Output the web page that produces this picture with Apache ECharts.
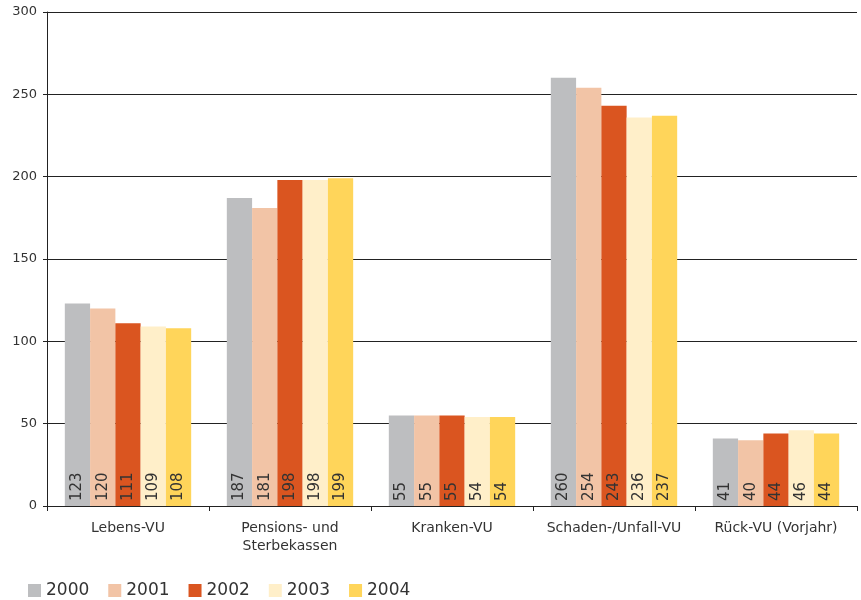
<!DOCTYPE html>
<html><head><meta charset="utf-8">
<script src="https://cdn.jsdelivr.net/npm/echarts@6/dist/echarts.min.js"></script>
<style>html,body{margin:0;padding:0;background:#fff}#c{width:861px;height:600px}</style>
</head><body><div id="c"></div>
<script>
var categories = ['Lebens-VU', 'Pensions- und\nSterbekassen', 'Kranken-VU', 'Schaden-/Unfall-VU', 'Rück-VU (Vorjahr)'];
var years = ['2000', '2001', '2002', '2003', '2004'];
var v2000 = [123, 187, 55, 260, 41];
var v2001 = [120, 181, 55, 254, 40];
var v2002 = [111, 198, 55, 243, 44];
var v2003 = [109, 198, 54, 236, 46];
var v2004 = [108, 199, 54, 237, 44];
var yTicks = [0, 50, 100, 150, 200, 250, 300];

var colors = ['#BDBEC0', '#F2C4A6', '#DA5520', '#FFEFC9', '#FFD55A'];
var seriesData = [v2000, v2001, v2002, v2003, v2004];
var font = 'DejaVu Sans, Verdana, sans-serif';

var chart = echarts.init(document.getElementById('c'));
chart.setOption({
  animation: false,
  color: colors,
  textStyle: { fontFamily: font },
  grid: { left: 47, right: 4, top: 12, bottom: 94, containLabel: false },
  legend: {
    left: 23, top: 577,
    itemWidth: 13, itemHeight: 13, itemGap: 19,
    icon: 'rect',
    textStyle: { fontSize: 17, color: '#333', fontFamily: font },
    data: years
  },
  xAxis: {
    type: 'category',
    data: categories,
    axisLine: { lineStyle: { color: '#222', width: 1 } },
    axisTick: { show: true, length: 5, interval: 0, lineStyle: { color: '#222' } },
    axisLabel: { interval: 0, fontSize: 14, color: '#333', margin: 13, lineHeight: 18, fontFamily: font }
  },
  yAxis: {
    type: 'value',
    min: yTicks[0], max: yTicks[yTicks.length - 1], interval: 50,
    axisLine: { show: true, lineStyle: { color: '#222', width: 1 } },
    axisTick: { show: true, length: 4, lineStyle: { color: '#222' } },
    axisLabel: { fontSize: 13, color: '#333', margin: 10, fontFamily: font },
    splitLine: { show: true, lineStyle: { color: '#222', width: 1 } }
  },
  series: years.map(function (y, i) {
    return {
      name: y,
      type: 'bar',
      data: seriesData[i],
      barGap: '0%',
      barCategoryGap: '22%',
      label: {
        show: true,
        position: 'insideBottom',
        rotate: 90,
        align: 'left',
        verticalAlign: 'middle',
        distance: 5,
        fontSize: 15,
        color: '#333',
        fontFamily: font
      }
    };
  })
});
</script></body></html>
